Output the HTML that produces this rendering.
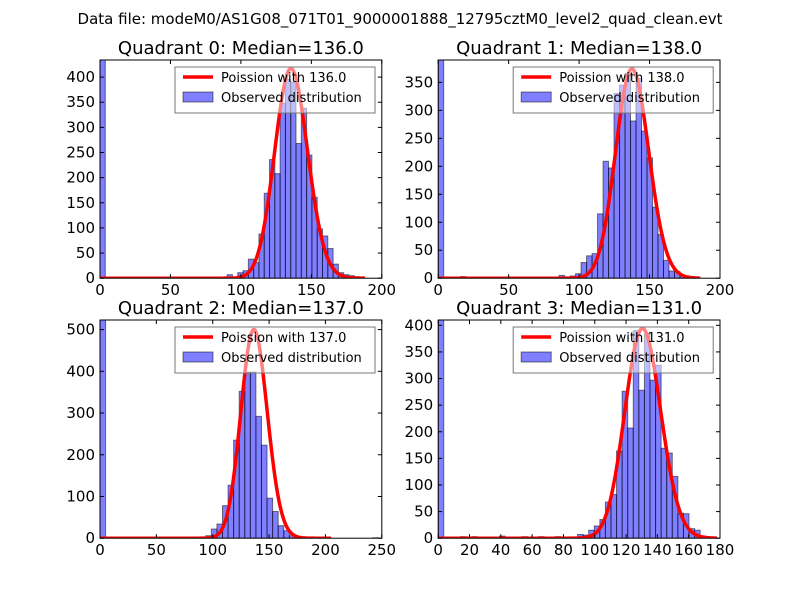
<!DOCTYPE html>
<html><head><meta charset="utf-8"><style>
html,body{margin:0;padding:0;background:#fff;}
svg{display:block;font-family:"DejaVu Sans","Liberation Sans",sans-serif;}
</style></head><body>
<svg id="fig" width="800" height="600" viewBox="0 0 800 600">
<rect width="800" height="600" fill="#fff"/>
<text x="400" y="24" font-size="15" text-anchor="middle">Data file: modeM0/AS1G08_071T01_9000001888_12795cztM0_level2_quad_clean.evt</text>
</svg>
<script>
// Quadrant 0
const q0Counts=[434,0,0,0,0,0,0,0,0,0,0,0,0,0,0,0,0,0,0,0,0,0,0,0,7,0,11,15,38,31,88,169,236,208,348,395,390,268,338,245,161,98,84,59,28,11,7,5,3,1];
const q0BinWidth=3.76, q0Lambda=136, q0Peak=417, q0CurveMax=188;
const q0XTicks=[0,50,100,150,200], q0YTicks=[0,50,100,150,200,250,300,350,400];
const q0XMax=200, q0YMax=434;
// Quadrant 1
const q1Counts=[390,2,0,0,3,0,0,0,0,0,0,0,0,1,0,0,0,0,0,2,2,0,5,0,4,8,28,40,44,115,209,197,330,345,366,281,357,263,215,127,78,32,13,12,4,2,0,0];
const q1BinWidth=3.9, q1Lambda=138, q1Peak=374, q1CurveMax=186;
const q1XTicks=[0,50,100,150,200], q1YTicks=[0,50,100,150,200,250,300,350];
const q1XMax=200, q1YMax=390;
// Quadrant 2
const q2Counts=[523,0,0,0,0,0,0,0,0,0,0,0,0,0,0,0,0,0,0,6,22,34,78,127,235,352,398,398,292,223,96,64,30,18,6,2,0,0,0,0,0,0,0,0,0,0,0,0,0,1];
const q2BinWidth=4.94, q2Lambda=137, q2Peak=500, q2CurveMax=205;
const q2XTicks=[0,50,100,150,200,250], q2YTicks=[0,100,200,300,400,500];
const q2XMax=250, q2YMax=523;
// Quadrant 3
const q3Counts=[410,0,0,0,3,0,3,2,0,2,0,4,0,0,0,3,0,0,3,0,2,3,2,2,2,7,6,15,23,35,68,82,164,276,207,390,278,384,297,325,169,160,116,47,46,18,15,4,2,1];
const q3BinWidth=3.56, q3Lambda=131, q3Peak=394, q3CurveMax=178;
const q3XTicks=[0,20,40,60,80,100,120,140,160,180], q3YTicks=[0,50,100,150,200,250,300,350,400];
const q3XMax=180, q3YMax=410;
const titles=["Quadrant 0: Median=136.0","Quadrant 1: Median=138.0","Quadrant 2: Median=137.0","Quadrant 3: Median=131.0"];
const legendLabels=["Poission with 136.0","Poission with 138.0","Poission with 137.0","Poission with 131.0"];

const NS="http://www.w3.org/2000/svg";
const fig=document.getElementById('fig');
function mk(tag,attrs,parent){const e=document.createElementNS(NS,tag);for(const k in attrs)e.setAttribute(k,attrs[k]);parent.appendChild(e);return e;}
function lgam(n){let s=0;for(let i=2;i<=n;i++)s+=Math.log(i);return s;}

const panels=[
 {c:q0Counts,w:q0BinWidth,l:q0Lambda,p:q0Peak,cm:q0CurveMax,xt:q0XTicks,yt:q0YTicks,xm:q0XMax,ym:q0YMax,x0:100,y0:60},
 {c:q1Counts,w:q1BinWidth,l:q1Lambda,p:q1Peak,cm:q1CurveMax,xt:q1XTicks,yt:q1YTicks,xm:q1XMax,ym:q1YMax,x0:438.2,y0:60},
 {c:q2Counts,w:q2BinWidth,l:q2Lambda,p:q2Peak,cm:q2CurveMax,xt:q2XTicks,yt:q2YTicks,xm:q2XMax,ym:q2YMax,x0:100,y0:320},
 {c:q3Counts,w:q3BinWidth,l:q3Lambda,p:q3Peak,cm:q3CurveMax,xt:q3XTicks,yt:q3YTicks,xm:q3XMax,ym:q3YMax,x0:438.2,y0:320}
];
const W=281.8,H=218.2;
panels.forEach((P,i)=>{
 const g=mk('g',{},fig);
 
 
 const xs=v=>P.x0+v/P.xm*W, ys=v=>P.y0+H-Math.min(v,P.ym)/P.ym*H;
 const cp='clip'+i;
 const cl=mk('clipPath',{id:cp},g); mk('rect',{x:P.x0,y:P.y0,width:W,height:H},cl);
 const bg=mk('g',{'clip-path':'url(#'+cp+')'},g);
 P.c.forEach((v,k)=>{
  if(v<=0)return;
  const r=mk('rect',{x:xs(k*P.w),y:ys(v),width:xs((k+1)*P.w)-xs(k*P.w),height:ys(0)-ys(v),fill:'#0000ff','fill-opacity':0.5,stroke:'#000','stroke-opacity':0.5,'stroke-width':1},bg);
  
  
 });
 const peakPmf=Math.exp(Math.floor(P.l)*Math.log(P.l)-P.l-lgam(Math.floor(P.l)));
 const scale=P.p/peakPmf;
 let d='';
 for(let k=0;k<=P.cm;k++){const y=scale*Math.exp(k*Math.log(P.l)-P.l-lgam(k));d+=(k?'L':'M')+xs(k).toFixed(2)+','+ys(y).toFixed(2);}
 const line=mk('path',{d:d,fill:'none',stroke:'#ff0000','stroke-width':3.5,'stroke-linejoin':'round'},bg);
 
 
 const fr=mk('rect',{x:P.x0,y:P.y0,width:W,height:H,fill:'none',stroke:'#000','stroke-width':1},g);
 
 
 P.xt.forEach(t=>{
  const x=xs(t);
  mk('line',{x1:x,y1:P.y0+H,x2:x,y2:P.y0+H-4,stroke:'#000'},g);
  mk('line',{x1:x,y1:P.y0,x2:x,y2:P.y0+4,stroke:'#000'},g);
  const tx=mk('text',{x:x,y:P.y0+H+17,'font-size':15,'text-anchor':'middle'},g);tx.textContent=t;
  
  
 });
 P.yt.forEach(t=>{
  const y=ys(t);
  mk('line',{x1:P.x0,y1:y,x2:P.x0+4,y2:y,stroke:'#000'},g);
  mk('line',{x1:P.x0+W,y1:y,x2:P.x0+W-4,y2:y,stroke:'#000'},g);
  const ty=mk('text',{x:P.x0-5,y:y+5,'font-size':15,'text-anchor':'end'},g);ty.textContent=t;
  
  
 });
 const tt=mk('text',{x:P.x0+W/2,y:P.y0-6,'font-size':18,'text-anchor':'middle'},g);tt.textContent=titles[i];
 
 
 const lg=mk('g',{},g);
 
 
 const lx=P.x0+75, ly=P.y0+7;
 mk('rect',{x:lx,y:ly,width:200,height:46,fill:'#fff','fill-opacity':0.5,stroke:'#777','stroke-width':1},lg);
 mk('line',{x1:lx+8,y1:ly+10,x2:lx+38,y2:ly+10,stroke:'#ff0000','stroke-width':3.5},lg);
 const t1=mk('text',{x:lx+46,y:ly+15,'font-size':13},lg);t1.textContent=legendLabels[i];
 mk('rect',{x:lx+8,y:ly+25,width:30,height:10,fill:'#0000ff','fill-opacity':0.5,stroke:'#000','stroke-opacity':0.5},lg);
 const t2=mk('text',{x:lx+46,y:ly+35,'font-size':13},lg);t2.textContent='Observed distribution';
});
</script>
</body></html>
